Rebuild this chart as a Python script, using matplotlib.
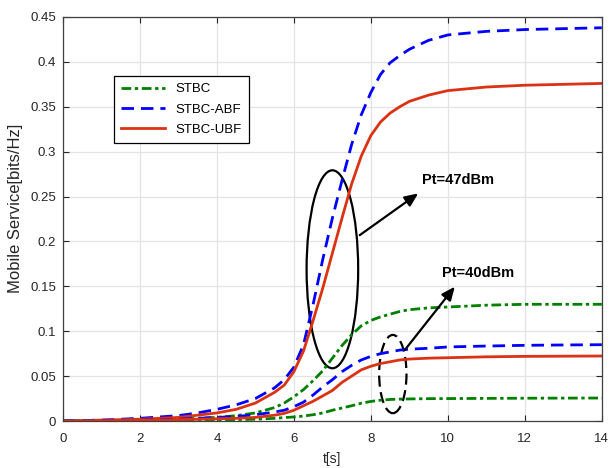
import numpy as np
import matplotlib
matplotlib.use("Agg")
import matplotlib.pyplot as plt
from matplotlib.patches import Ellipse

plt.rcParams['font.family'] = ['Liberation Sans', 'DejaVu Sans']

# time axis [s]
t = [0, 1, 2, 3, 3.5, 4, 4.5, 5, 5.5, 5.75, 6, 6.25, 6.5, 6.75, 7, 7.25, 7.5,
     7.75, 8, 8.25, 8.5, 8.75, 9, 9.5, 10, 10.5, 11, 12, 13, 14]

# Pt = 47 dBm
stbc_47 = [0, 0.0005, 0.001, 0.002, 0.003, 0.004, 0.006, 0.009, 0.015, 0.020,
           0.027, 0.035, 0.045, 0.056, 0.070, 0.084, 0.096, 0.106, 0.112, 0.116,
           0.119, 0.122, 0.124, 0.126, 0.127, 0.128, 0.129, 0.130, 0.130, 0.130]
abf_47 = [0, 0.001, 0.003, 0.006, 0.009, 0.013, 0.018, 0.025, 0.037, 0.046,
          0.060, 0.085, 0.130, 0.180, 0.226, 0.268, 0.308, 0.341, 0.366, 0.386,
          0.399, 0.407, 0.414, 0.424, 0.430, 0.432, 0.434, 0.436, 0.437, 0.438]
ubf_47 = [0, 0.001, 0.002, 0.004, 0.0065, 0.009, 0.013, 0.020, 0.032, 0.040,
          0.055, 0.078, 0.112, 0.148, 0.187, 0.226, 0.264, 0.295, 0.318, 0.333,
          0.343, 0.350, 0.356, 0.363, 0.368, 0.370, 0.372, 0.374, 0.375, 0.376]

# Pt = 40 dBm
stbc_40 = [0, 0.0001, 0.0002, 0.0005, 0.0008, 0.001, 0.0015, 0.002, 0.003, 0.0038,
           0.0045, 0.0055, 0.007, 0.009, 0.012, 0.0145, 0.017, 0.0198, 0.0218, 0.0232,
           0.024, 0.0244, 0.0246, 0.0249, 0.025, 0.0251, 0.0252, 0.0254, 0.0255, 0.0256]
abf_40 = [0, 0.0005, 0.001, 0.002, 0.003, 0.004, 0.005, 0.007, 0.010, 0.012,
          0.016, 0.021, 0.029, 0.038, 0.046, 0.055, 0.062, 0.068, 0.072, 0.075,
          0.077, 0.079, 0.080, 0.081, 0.0825, 0.083, 0.0835, 0.0843, 0.0847, 0.085]
ubf_40 = [0, 0.0003, 0.0008, 0.0015, 0.002, 0.0025, 0.003, 0.004, 0.0065, 0.0085,
          0.012, 0.017, 0.022, 0.028, 0.034, 0.043, 0.050, 0.057, 0.061, 0.064,
          0.066, 0.068, 0.069, 0.070, 0.0705, 0.071, 0.0715, 0.072, 0.0722, 0.0724]

ytick_labels = ['0', '0.05', '0.1', '0.15', '0.2', '0.25', '0.3', '0.35', '0.4', '0.45']

green = '#008000'
blue = '#0000FF'
red = '#DC3214'
dashdot = (3.5, 1.3, 1.2, 1.3)
dashed = (4.5, 2.5)

fig = plt.figure(figsize=(6.11, 4.68), dpi=100)
ax = fig.add_axes([0.103, 0.1004, 0.882, 0.8633])

ax.plot(t, stbc_47, color=green, lw=2, dashes=dashdot, label='STBC')
ax.plot(t, abf_47, color=blue, lw=2, dashes=dashed, label='STBC-ABF')
ax.plot(t, ubf_47, color=red, lw=2, label='STBC-UBF')
ax.plot(t, stbc_40, color=green, lw=2, dashes=dashdot)
ax.plot(t, abf_40, color=blue, lw=2, dashes=dashed)
ax.plot(t, ubf_40, color=red, lw=2)

# annotation ellipses and arrows
ax.add_patch(Ellipse((7.0, 0.169), 1.34, 0.2205, fill=False, ec='black', lw=1.6))
ax.add_patch(Ellipse((8.57, 0.0523), 0.71, 0.0872, fill=False, ec='black', lw=1.6,
                     linestyle=(0, (5, 2.5))))
arrow = dict(arrowstyle='-|>,head_length=0.8,head_width=0.35', color='black', lw=1.6,
             shrinkA=0, shrinkB=0)
ax.annotate('', xy=(9.23, 0.2535), xytext=(7.71, 0.207), arrowprops=arrow)
ax.annotate('', xy=(10.18, 0.1496), xytext=(8.88, 0.079), arrowprops=arrow)
ax.text(9.34, 0.268, 'Pt=47dBm', fontsize=10.5, fontweight='bold', va='center')
ax.text(9.84, 0.1645, 'Pt=40dBm', fontsize=10.5, fontweight='bold', va='center')

ax.set_xlim(0, 14)
ax.set_ylim(0, 0.45)
ax.set_xticks(np.arange(0, 15, 2))
ax.set_yticks(np.arange(0, 0.451, 0.05))
ax.set_yticklabels(ytick_labels)
ax.grid(True, color='#E3E3E3', lw=0.9)
ax.set_axisbelow(True)
ax.tick_params(direction='in', top=True, right=True, length=4, labelsize=9.5,
               colors='#262626', width=0.8)
ax.tick_params(axis='x', pad=8.5)
ax.tick_params(axis='y', pad=5)
for s in ax.spines.values():
    s.set_color('#404040')
    s.set_linewidth(0.9)

ax.set_xlabel('t[s]', fontsize=10, color='#262626', labelpad=5)
ax.set_ylabel('Mobile Service[bits/Hz]', fontsize=12, color='#262626')
ax.yaxis.set_label_coords(-0.074, 0.527)

leg = ax.legend(loc='upper left', bbox_to_anchor=(0.0946, 0.854), borderaxespad=0,
                fontsize=9.5, fancybox=False, edgecolor='black', framealpha=1,
                handlelength=3.3, labelspacing=0.6, borderpad=0.55)
leg.get_frame().set_linewidth(0.9)

fig.savefig('out.png', dpi=100)
